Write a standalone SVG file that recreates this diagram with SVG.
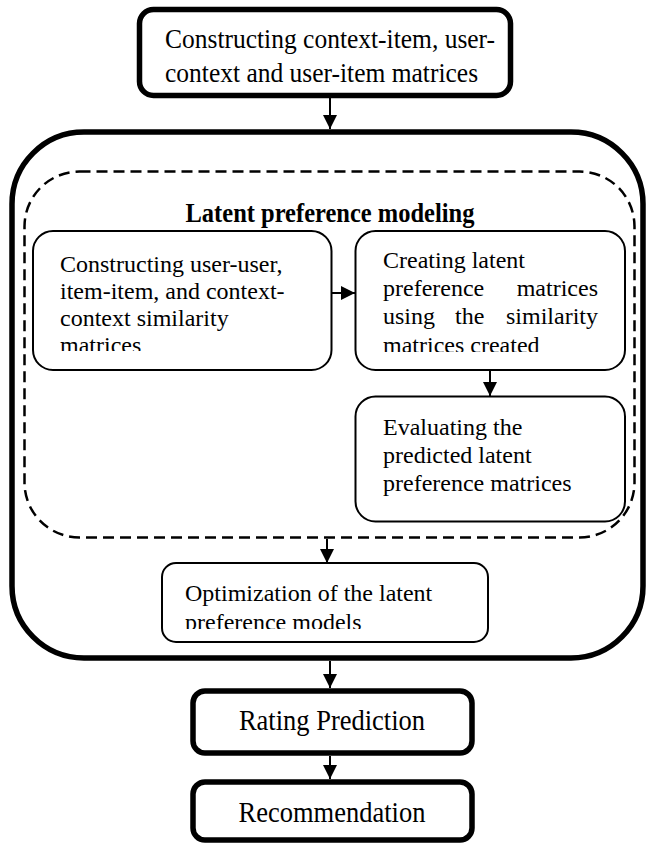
<svg xmlns="http://www.w3.org/2000/svg" width="646" height="846" viewBox="0 0 646 846">
<style>
text{font-family:"Liberation Serif","Times New Roman",serif;fill:#000;}
.t{font-size:24px;}
.tb{font-size:25.5px;}
.tr{font-size:26.5px;text-anchor:middle;}
.title{font-size:24.5px;font-weight:bold;text-anchor:middle;}
.end{text-anchor:end;}
.thick{fill:#fff;stroke:#000;stroke-width:5.5;}
.thin{fill:#fff;stroke:#000;stroke-width:2;}
.dash{fill:none;stroke:#000;stroke-width:2.5;stroke-dasharray:11 6;}
.conn line{stroke:#000;stroke-width:2;marker-end:url(#ah);}
</style>
<defs>
<marker id="ah" markerWidth="14" markerHeight="14" refX="14" refY="7" orient="auto" markerUnits="userSpaceOnUse"><path d="M0,0 L14,7 L0,14 z" fill="#000"/></marker>
<clipPath id="clipL"><rect x="34" y="232" width="296" height="119"/></clipPath>
<clipPath id="clipR"><rect x="357" y="232" width="266" height="120"/></clipPath>
<clipPath id="clipO"><rect x="164" y="565" width="322" height="64"/></clipPath>
</defs>

<g id="node-construct-matrices">
<rect class="thick" x="139.5" y="9.5" width="371" height="86" rx="14"/>
<text class="tb" transform="translate(0,48) scale(1,1.1)" x="165" y="0">Constructing context-item, user-</text>
<text class="tb" transform="translate(0,82) scale(1,1.1)" x="165" y="0">context and user-item matrices</text>
</g>

<g id="node-outer">
<rect class="thick" x="12" y="132" width="631" height="526" rx="72"/>
</g>

<g id="node-latent-group">
<rect class="dash" x="24.5" y="171.5" width="610" height="366" rx="55"/>
<text class="title" transform="translate(0,222) scale(1,1.1)" x="330" y="0">Latent preference modeling</text>
</g>

<g id="node-similarity">
<rect class="thin" x="33" y="231" width="298.5" height="139" rx="20"/>
<g clip-path="url(#clipL)">
<text class="t" x="60" y="272">Constructing user-user,</text>
<text class="t" x="60" y="299">item-item, and context-</text>
<text class="t" x="60" y="326">context similarity</text>
<text class="t" x="60" y="353">matrices</text>
</g>
</g>

<g id="node-create-latent">
<rect class="thin" x="355.5" y="231" width="269.5" height="139" rx="20"/>
<g clip-path="url(#clipR)">
<text class="t" x="383" y="268">Creating latent</text>
<text class="t"><tspan x="383" y="296">preference</tspan><tspan class="end" x="598" y="296">matrices</tspan></text>
<text class="t"><tspan x="383" y="324">using</tspan><tspan x="455" y="324">the</tspan><tspan class="end" x="598" y="324">similarity</tspan></text>
<text class="t" x="383" y="353">matrices created</text>
</g>
</g>

<g id="node-evaluate">
<rect class="thin" x="355.5" y="396.5" width="269.5" height="125" rx="20"/>
<text class="t" x="383" y="435">Evaluating the</text>
<text class="t" x="383" y="463">predicted latent</text>
<text class="t" x="383" y="491">preference matrices</text>
</g>

<g id="node-optimization">
<rect class="thin" x="162" y="563" width="326" height="79" rx="14"/>
<g clip-path="url(#clipO)">
<text class="t" x="185" y="601">Optimization of the latent</text>
<text class="t" x="185" y="630">preference models</text>
</g>
</g>

<g id="node-rating">
<rect class="thick" x="193" y="691" width="279" height="62" rx="12"/>
<text class="tr" transform="translate(0,730) scale(1,1.1)" x="332" y="0">Rating Prediction</text>
</g>

<g id="node-recommendation">
<rect class="thick" x="193" y="782" width="279" height="58" rx="12"/>
<text class="tr" transform="translate(0,822) scale(1,1.1)" x="332" y="0">Recommendation</text>
</g>

<g id="connectors" class="conn">
<line x1="330" y1="98" x2="330" y2="129"/>
<line x1="332" y1="293" x2="355" y2="293"/>
<line x1="490" y1="370" x2="490" y2="396"/>
<line x1="327" y1="539" x2="327" y2="563"/>
<line x1="330" y1="661" x2="330" y2="688"/>
<line x1="330" y1="756" x2="330" y2="779"/>
</g>
</svg>
